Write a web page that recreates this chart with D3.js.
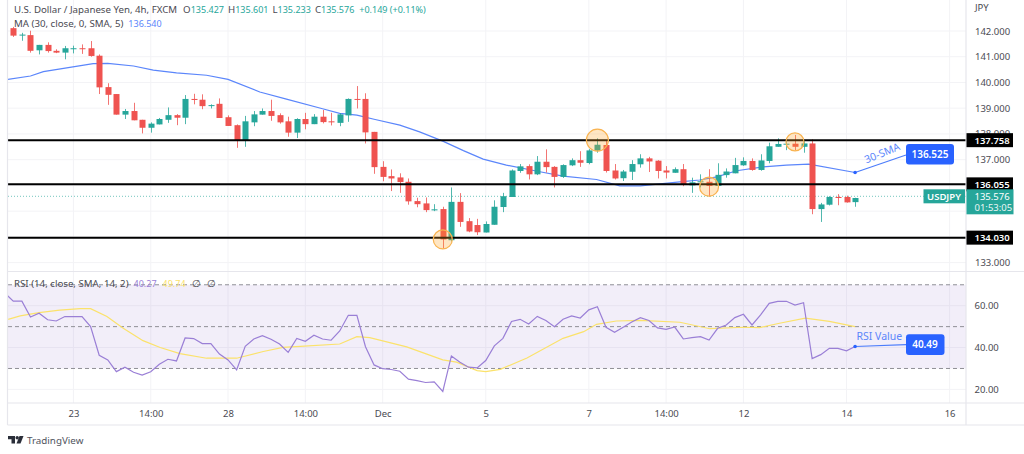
<!DOCTYPE html>
<html><head><meta charset="utf-8">
<script src="https://cdn.jsdelivr.net/npm/d3@7/dist/d3.min.js"></script>
<style>
html,body{margin:0;padding:0;background:#fff;overflow:hidden}
text{font-family:"Noto Sans","Open Sans",sans-serif}
</style></head><body><svg id="c" width="1024" height="454"></svg>
<script>
const opens=[142.11,141.84,141.84,141.25,141.46,141.23,141.16,141.30,141.33,141.33,141.04,139.82,139.55,138.75,138.89,138.55,138.24,138.37,138.55,138.73,138.63,139.36,139.33,139.10,139.17,138.65,138.34,137.73,138.45,138.75,138.89,138.73,138.49,138.05,138.58,138.38,138.67,138.49,138.43,138.72,139.36,139.36,138.08,136.72,136.36,136.31,136.14,135.39,135.30,135.03,135.08,133.87,135.36,134.61,134.46,134.17,134.47,135.16,135.55,136.56,136.75,136.43,136.92,136.72,136.33,136.78,136.98,136.87,137.35,137.57,136.58,136.28,136.53,136.82,137.05,136.96,136.58,136.49,136.63,136.00,136.12,136.14,135.98,136.40,136.47,136.78,136.95,136.60,136.95,137.50,137.60,137.62,137.50,137.63,135.08,135.25,135.55,135.55,135.35];
const highs=[142.16,141.93,142.01,141.46,141.56,141.29,141.42,141.43,141.48,141.61,141.09,139.97,139.55,138.97,139.21,138.55,138.45,138.62,139.03,138.77,139.51,139.56,139.54,139.15,139.38,138.72,138.37,138.70,138.89,138.99,139.33,138.80,138.67,138.61,138.82,138.77,138.93,138.82,138.81,139.38,139.86,139.58,138.08,136.94,136.62,136.47,136.27,135.52,135.53,135.27,135.17,135.92,135.70,134.73,134.70,134.60,135.42,135.71,136.62,136.83,136.82,137.14,137.40,136.75,136.82,137.05,137.33,137.41,137.83,137.76,136.83,136.60,136.98,137.21,137.11,136.98,136.75,136.70,136.83,136.30,136.43,136.63,136.86,136.66,137.07,137.09,137.05,137.21,137.66,137.83,137.79,137.96,137.73,137.79,135.32,135.58,135.66,135.60,135.52];
const lows=[141.77,141.62,141.16,141.09,141.16,141.14,140.90,141.13,141.11,141.00,139.55,139.13,138.75,138.58,138.53,138.02,138.05,138.37,138.43,138.34,138.38,139.15,138.96,138.99,138.62,138.31,137.46,137.50,138.30,138.75,138.51,138.40,137.89,137.84,138.18,138.38,138.41,138.33,138.30,138.47,138.99,137.63,136.45,136.16,135.78,135.71,135.25,135.15,134.96,135.00,133.55,133.82,134.39,134.18,134.07,134.17,134.47,134.96,135.55,136.49,136.23,136.40,136.50,135.92,136.29,136.75,136.72,136.82,137.27,136.50,136.23,136.17,136.21,136.69,136.52,136.27,136.27,136.49,135.97,135.71,135.92,135.56,135.98,136.30,136.47,136.76,136.57,136.57,136.86,137.50,137.37,137.37,137.27,134.88,134.58,135.22,135.23,135.33,135.17];
const closes=[141.82,141.86,141.23,141.46,141.22,141.16,141.33,141.33,141.30,141.03,139.81,139.52,138.75,138.89,138.53,138.24,138.40,138.58,138.73,138.63,139.36,139.32,139.08,139.12,138.62,138.31,137.73,138.49,138.76,138.89,138.70,138.45,138.05,138.58,138.38,138.67,138.46,138.45,138.76,139.36,139.33,138.06,136.71,136.33,136.27,136.13,135.38,135.27,135.04,135.07,133.90,135.36,134.58,134.21,134.18,134.50,135.17,135.58,136.58,136.74,136.43,136.92,136.71,136.33,136.79,136.98,136.88,137.36,137.58,136.56,136.27,136.54,136.83,137.05,136.93,136.56,136.50,136.63,136.02,136.12,136.16,135.98,136.41,136.54,136.79,136.95,136.60,136.97,137.52,137.61,137.62,137.50,137.63,135.08,135.26,135.55,135.52,135.34,135.51];

const smaIndex=[-1,2,3.5,9.3,11,14,16.3,19,22.5,25,28.7,31.8,36,38,40,42,45,47.3,50,52.4,54.7,57.4,61.3,64,67.9,70.6,73,77.6,79.9,81.9,84.2,87.3,90,92.6,98];
const smaValues=[140.10,140.25,140.42,140.73,140.74,140.64,140.48,140.37,140.28,140.12,139.63,139.35,138.98,138.80,138.73,138.57,138.34,138.08,137.72,137.35,137.02,136.79,136.53,136.36,136.23,135.98,135.98,136.14,136.21,136.33,136.57,136.72,136.79,136.83,136.50];

const rsiIndex=d3.range(-1,99);
const rsiValues=[66.1,62.2,62.2,54.6,56.4,53.3,52.7,54.8,54.8,54.8,50.0,36.3,34.1,28.5,30.6,28.2,26.8,28.4,32.0,34.4,33.6,44.6,44.3,41.9,41.9,36.9,34.1,29.3,40.6,44.1,45.7,44.0,41.7,37.7,44.3,43.0,45.9,44.1,43.5,47.9,55.4,55.4,40.4,31.7,29.9,29.5,28.7,24.9,24.2,23.3,23.6,19.0,36.0,33.0,30.6,30.3,33.8,40.8,44.4,52.5,53.5,51.3,54.9,52.9,50.0,53.5,55.1,54.1,58.0,59.5,49.7,47.3,49.7,52.2,54.3,52.9,49.4,48.7,49.8,44.1,44.7,45.2,43.6,49.2,50.8,54.3,55.9,50.8,55.6,61.1,62.1,62.1,60.3,61.4,34.7,36.6,39.6,39.6,38.4,40.5];
const rsiMaIndex=[-0.6,0.8,3,5.4,7.8,9,10.9,12.8,15.1,17.1,19.4,22.5,26,29.1,31.4,33.4,38,40,41.5,45.8,50,51.6,54,55,56.7,59.8,64,66.4,67.9,70.2,73,77.6,81.1,85,86.9,89.2,92.2,95,98];
const rsiMaValues=[53.5,55.1,56.7,57.9,58.6,58.6,54.8,49.2,43.3,40.0,37.1,34.9,34.9,38.1,40.1,40.6,41.7,45.2,44.7,40.3,34.1,33.0,29.0,28.5,29.6,35.0,44.4,47.6,51.1,52.7,53.0,52.1,49.0,49.7,49.5,51.6,54.1,52.5,50.0];

const priceGrid=[142,141,140,139,138,137,136,135,134,133];
const priceTicks=[142,141,140,139,138,137,133];
const rsiTicks=[60,40,20];
const rsiBands=[70,50,30];
const timeTickIndex=[7,16,25,34,43,55,67,76,85,97,109];
const timeTickLabels=["23","14:00","28","14:00","Dec","5","7","14:00","12","14","16"];
const levelValues=[137.758,136.04,133.97];
const levelLabels=["137.758","136.055","134.030"];
const lastPrice=135.576, lastPriceLabel="135.576", countdown="01:53:05", symbol="USDJPY";
const circleIndex=[50,68,81,91];
const circlePrice=[133.90,137.76,135.95,137.69];
const circleR=[9.5,11,9.5,9];
const smaCallout="136.525", rsiCallout="40.49";
const legendOHLC=[["O","135.427"],["H","135.601"],["L","135.233"],["C","135.576"]];

const L=8,R=966,PT=0,PB=271.5,RT=271.5,RB=403,BB=425;
const x=d3.scaleLinear().domain([0,98]).range([13.3,855.1]);
const y=d3.scaleLinear().domain([142,133]).range([31,262.6]);
const yr=d3.scaleLinear().domain([60,20]).range([305.7,389.4]);
const svg=d3.select("#c");
const defs=svg.append("defs");
defs.append("clipPath").attr("id","pp").append("rect").attr("x",L).attr("y",PT).attr("width",R-L).attr("height",PB-PT);
defs.append("clipPath").attr("id","rp").append("rect").attr("x",L).attr("y",RT).attr("width",R-L).attr("height",RB-RT);

const GRID="#f3f3f6",FRAME="#e6e6ec",TXT="#4a4a52",UP="#26a69a",DN="#ef5350",BLUE="#2962ff";

// grid
const g=svg.append("g");
g.selectAll(".gv").data(timeTickIndex).join("line").attr("x1",d=>x(d)).attr("x2",d=>x(d)).attr("y1",PT).attr("y2",RB).attr("stroke",GRID);
g.selectAll(".gh").data(priceGrid).join("line").attr("x1",L).attr("x2",R).attr("y1",d=>y(d)).attr("y2",d=>y(d)).attr("stroke",GRID);

// RSI band
svg.append("rect").attr("x",L).attr("width",R-L).attr("y",yr(70)).attr("height",yr(30)-yr(70)).attr("fill","#7e57c2").attr("opacity",.1);
g.selectAll(".gr").data(rsiTicks).join("line").attr("x1",L).attr("x2",R).attr("y1",d=>yr(d)).attr("y2",d=>yr(d)).attr("stroke",GRID);
svg.selectAll(".band").data(rsiBands).join("line").attr("x1",L).attr("x2",R).attr("y1",d=>yr(d)).attr("y2",d=>yr(d)).attr("stroke","#8f8f96").attr("stroke-dasharray","4 3");

// last price dotted
svg.append("line").attr("x1",L).attr("x2",R).attr("y1",y(lastPrice)).attr("y2",y(lastPrice)).attr("stroke",UP).attr("stroke-opacity",.65).attr("stroke-dasharray","1 2");

// main pane
const main=svg.append("g").attr("clip-path","url(#pp)");
const idx=d3.range(opens.length);
main.append("path").datum(smaIndex.map((d,i)=>[d,smaValues[i]]))
  .attr("d",d3.line().x(d=>x(d[0])).y(d=>y(d[1]))).attr("fill","none").attr("stroke","#5b86fb").attr("stroke-width",1.2);
const cg=main.selectAll(".c").data(idx).join("g");
const col=i=>closes[i]>=opens[i]?UP:DN;
cg.append("line").attr("x1",i=>Math.round(x(i))+.5).attr("x2",i=>Math.round(x(i))+.5).attr("y1",i=>y(highs[i])).attr("y2",i=>y(lows[i])).attr("stroke",i=>col(i)).attr("stroke-opacity",.8);
cg.append("rect").attr("x",i=>Math.round(x(i))-2.5).attr("width",6)
  .attr("y",i=>y(Math.max(opens[i],closes[i])))
  .attr("height",i=>Math.max(1,Math.abs(y(opens[i])-y(closes[i])))).attr("fill",i=>col(i));

// levels
svg.selectAll(".lvl").data(levelValues).join("line").attr("x1",L).attr("x2",R).attr("y1",d=>y(d)).attr("y2",d=>y(d)).attr("stroke","#000").attr("stroke-width",2);

// circles
svg.selectAll(".ci").data(circleIndex).join("circle").attr("cx",d=>x(d)).attr("cy",(d,i)=>y(circlePrice[i])).attr("r",(d,i)=>circleR[i])
  .attr("fill","#ffa726").attr("fill-opacity",.28).attr("stroke","#f9b350").attr("stroke-width",1.2);

// RSI pane
const rp=svg.append("g").attr("clip-path","url(#rp)");
rp.append("path").datum(rsiMaIndex.map((d,i)=>[d,rsiMaValues[i]])).attr("d",d3.line().x(d=>x(d[0])).y(d=>yr(d[1]))).attr("fill","none").attr("stroke","#fbe26b").attr("stroke-width",1.2);
rp.append("path").datum(rsiIndex.map((d,i)=>[d,rsiValues[i]])).attr("d",d3.line().x(d=>x(d[0])).y(d=>yr(d[1]))).attr("fill","none").attr("stroke","#9a7fd6").attr("stroke-width",1.2);

// frame
const fr=svg.append("g").attr("stroke",FRAME).attr("stroke-width",1.2);
fr.append("line").attr("x1",7.5).attr("x2",7.5).attr("y1",0).attr("y2",BB);
fr.append("line").attr("x1",R).attr("x2",R).attr("y1",0).attr("y2",BB);
fr.append("line").attr("x1",7.5).attr("x2",1024).attr("y1",PB).attr("y2",PB);
fr.append("line").attr("x1",7.5).attr("x2",1024).attr("y1",RB).attr("y2",RB);
fr.append("line").attr("x1",7.5).attr("x2",1024).attr("y1",BB).attr("y2",BB);

// axes
const AX="9.5px";
const style=s=>{s.select(".domain").remove();s.selectAll("line").remove();s.selectAll("text").attr("fill",TXT).style("font-size",AX);};
svg.append("g").attr("transform",`translate(${R+9},0)`).call(d3.axisRight(y).tickValues(priceTicks).tickFormat(d3.format(".3f")).tickSize(0).tickPadding(0)).call(style);
svg.append("g").attr("transform",`translate(${R+8.5},0)`).call(d3.axisRight(yr).tickValues(rsiTicks).tickFormat(d3.format(".2f")).tickSize(0).tickPadding(0)).call(style);
svg.append("g").attr("transform",`translate(0,${RB})`).call(d3.axisBottom(x).tickValues(timeTickIndex).tickFormat((d,i)=>timeTickLabels[i]).tickSize(0).tickPadding(7)).call(style);
svg.append("text").attr("x",975).attr("y",11).attr("fill",TXT).style("font-size","9.5px").text("JPY");

// level labels
const lb=svg.selectAll(".lb").data(levelValues).join("g").attr("transform",d=>`translate(${R+.5},${y(d)})`);
lb.append("rect").attr("x",0).attr("y",-7).attr("width",46.5).attr("height",14).attr("fill","#000");
lb.append("text").attr("x",8).attr("y",3.5).attr("fill","#fff").style("font-size","9.5px").style("font-weight","600").text((d,i)=>levelLabels[i]);

// last price labels
const ly=y(lastPrice);
svg.append("rect").attr("x",R+.5).attr("y",ly-7).attr("width",47).attr("height",25).attr("fill",UP);
svg.append("text").attr("x",R+8.5).attr("y",ly+3.5).attr("fill","#fff").style("font-size","9.5px").text(lastPriceLabel);
svg.append("text").attr("x",R+8.5).attr("y",ly+15).attr("fill","#fff").style("font-size","9.5px").attr("opacity",.9).text(countdown);
svg.append("rect").attr("x",923.5).attr("y",ly-7).attr("width",41.5).attr("height",14).attr("fill",UP);
svg.append("text").attr("x",944).attr("y",ly+3.5).attr("text-anchor","middle").attr("fill","#fff").style("font-size","9.5px").style("font-weight","600").text(symbol);

// callouts
const lastI=opens.length-1;
const smaEnd=y(smaValues[smaValues.length-1]);
svg.append("line").attr("x1",x(lastI)).attr("y1",smaEnd).attr("x2",906).attr("y2",155).attr("stroke","#4c7dfb").attr("stroke-width",1.2);
svg.append("circle").attr("cx",x(lastI)).attr("cy",smaEnd).attr("r",1.8).attr("fill",BLUE);
svg.append("rect").attr("x",906).attr("y",144).attr("width",48).attr("height",20.5).attr("rx",3).attr("fill",BLUE);
svg.append("text").attr("x",930).attr("y",157.5).attr("text-anchor","middle").attr("fill","#fff").style("font-size","10px").style("font-weight","600").text(smaCallout);
svg.append("text").attr("transform","translate(883.5,156.5) rotate(-22)").attr("text-anchor","middle").attr("fill","#5b86fb").style("font-size","10.5px").text("30-SMA");

const rsiEnd=yr(rsiValues[rsiValues.length-1]);
svg.append("line").attr("x1",x(lastI)).attr("y1",rsiEnd).attr("x2",906).attr("y2",344.7).attr("stroke","#4c7dfb").attr("stroke-width",1.2);
svg.append("circle").attr("cx",x(lastI)).attr("cy",rsiEnd).attr("r",1.8).attr("fill",BLUE);
svg.append("rect").attr("x",906).attr("y",334.3).attr("width",38.5).attr("height",20.7).attr("rx",3).attr("fill",BLUE);
svg.append("text").attr("x",925).attr("y",348).attr("text-anchor","middle").attr("fill","#fff").style("font-size","10px").style("font-weight","600").text(rsiCallout);
svg.append("text").attr("x",856.5).attr("y",340).attr("fill","#5b86fb").style("font-size","10.5px").text("RSI Value");

// legends
const FS="9.7px",FV="9px";
const t1=svg.append("text").attr("x",14).attr("y",13).style("font-size",FS).attr("fill",TXT);
t1.append("tspan").text("U.S. Dollar / Japanese Yen, 4h, FXCM");
legendOHLC.forEach(([k,v],i)=>{t1.append("tspan").attr("dx",i?4:6).text(k);t1.append("tspan").attr("fill",UP).style("font-size",FV).text(v);});
t1.append("tspan").attr("dx",5).attr("fill",UP).style("font-size",FV).text("+0.149 (+0.11%)");
const t2=svg.append("text").attr("x",14).attr("y",27).style("font-size",FS).attr("fill",TXT);
t2.append("tspan").text("MA (30, close, 0, SMA, 5)");
t2.append("tspan").attr("dx",5).attr("fill","#5b86fb").style("font-size",FV).text("136.540");
const t3=svg.append("text").attr("x",14).attr("y",287).style("font-size",FS).attr("fill",TXT);
t3.append("tspan").text("RSI (14, close, SMA, 14, 2)");
t3.append("tspan").attr("dx",5).attr("fill","#9a7fd6").style("font-size",FV).text("40.27");
t3.append("tspan").attr("dx",6).attr("fill","#fbe26b").style("font-size",FV).text("49.74");
t3.append("tspan").attr("dx",6).text("∅");
t3.append("tspan").attr("dx",6).text("∅");

// TradingView logo
const lg=svg.append("g").attr("transform","translate(8,436)").attr("fill","#2a2e39");
lg.append("path").attr("d","M0 0H7V7.5H3.5V3.2H0Z");
lg.append("circle").attr("cx",9.2).attr("cy",1.7).attr("r",1.7);
lg.append("path").attr("d","M11.5 0H15.5L12.5 7.5H8.5Z");
svg.append("text").attr("x",27).attr("y",444).attr("fill","#50535e").style("font-size","9.8px").text("TradingView");
</script></body></html>
